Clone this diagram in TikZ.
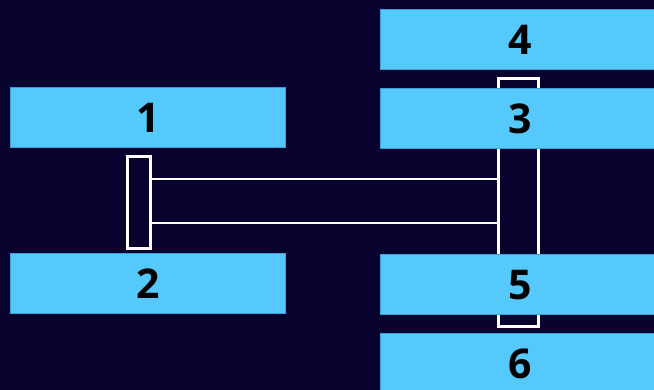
\documentclass[tikz,border=0pt]{standalone}
\usepackage{fontspec}
\setmainfont{Open Sans}
\definecolor{bg}{HTML}{07032E}
\definecolor{boxfill}{HTML}{55C8FC}
\definecolor{boxline}{HTML}{3A9FD6}
\begin{document}
\begin{tikzpicture}[x=1pt,y=-1pt,
  numbox/.style={draw=boxline,line width=0.8pt,fill=boxfill,minimum width=#1,minimum height=60pt,inner sep=0pt,anchor=north west,font=\fontsize{41}{41}\selectfont\bfseries,text=black,text depth=-3pt},
  numbox/.default=275pt,
  bar/.style={draw=white,line width=2.8pt,inner sep=0pt,anchor=north west}]
\fill[bg] (0,0) rectangle (654,390);
\useasboundingbox (0,0) rectangle (654,390);
% bars
\node[bar,minimum width=23pt,minimum height=92pt] (lb) at (126,155) {};
\node[bar,minimum width=40pt,minimum height=248pt] (rb) at (497,77) {};
\coordinate (t1) at (0,179);
\coordinate (t2) at (0,223);
\draw[white,line width=2.8pt] (lb.east |- t1) -- (rb.west |- t1);
\draw[white,line width=2.8pt] (lb.east |- t2) -- (rb.west |- t2);
% boxes
\node[numbox] (b1) at (10,87.5) {1};
\node[numbox] (b2) at (10,253) {2};
\node[numbox=280pt] (b4) at (380,9.5) {4};
\node[numbox=280pt] (b3) at (380,88.5) {3};
\node[numbox=280pt] (b5) at (380,254) {5};
\node[numbox=280pt] (b6) at (380,333) {6};
\end{tikzpicture}
\end{document}
